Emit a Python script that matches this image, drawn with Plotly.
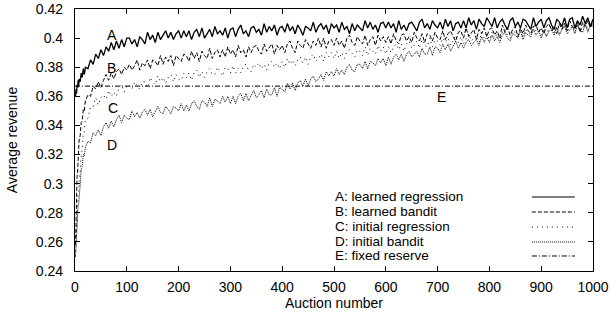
import plotly.graph_objects as go

# Auction numbers at which the curves were read
auction = [1, 2, 3, 4, 5, 6, 7, 8, 10, 12, 14, 16, 18, 20] + list(range(25, 1001, 5))

# A: learned regression
learned_regression = [
    0.360, 0.365, 0.362, 0.368, 0.366, 0.371, 0.367, 0.372, 0.370, 0.376, 0.373, 0.379, 0.375, 0.380,
    0.379, 0.385, 0.382, 0.389, 0.386, 0.392, 0.388, 0.394, 0.391, 0.397, 0.392, 0.398, 0.393, 0.399, 0.394, 0.400,
    0.400, 0.396, 0.399, 0.394, 0.401, 0.399, 0.396, 0.404, 0.399, 0.402, 0.397, 0.404, 0.399, 0.402, 0.405, 0.400, 0.404, 0.399, 0.403, 0.405,
    0.400, 0.405, 0.401, 0.405, 0.399, 0.404, 0.406, 0.401, 0.407, 0.400, 0.403, 0.406, 0.401, 0.408, 0.403, 0.405, 0.402, 0.407, 0.400, 0.406,
    0.407, 0.401, 0.406, 0.409, 0.403, 0.405, 0.401, 0.407, 0.408, 0.404, 0.406, 0.402, 0.410, 0.404, 0.408, 0.405, 0.409, 0.402, 0.407, 0.408,
    0.404, 0.410, 0.405, 0.408, 0.403, 0.409, 0.406, 0.402, 0.408, 0.407, 0.405, 0.411, 0.404, 0.408, 0.410, 0.406, 0.409, 0.403, 0.410, 0.407,
    0.409, 0.404, 0.411, 0.406, 0.408, 0.403, 0.410, 0.405, 0.409, 0.407, 0.405, 0.412, 0.407, 0.411, 0.406, 0.409, 0.404, 0.410, 0.411, 0.407,
    0.411, 0.407, 0.410, 0.404, 0.412, 0.406, 0.409, 0.405, 0.410, 0.411, 0.408, 0.405, 0.411, 0.413, 0.407, 0.410, 0.406, 0.412, 0.409, 0.407,
    0.411, 0.406, 0.413, 0.408, 0.412, 0.405, 0.410, 0.411, 0.407, 0.412, 0.407, 0.414, 0.409, 0.412, 0.406, 0.413, 0.410, 0.408, 0.414, 0.411,
    0.408, 0.414, 0.407, 0.411, 0.413, 0.409, 0.406, 0.412, 0.414, 0.408, 0.411, 0.407, 0.413, 0.412, 0.409, 0.406, 0.414, 0.408, 0.411, 0.413,
    0.407, 0.412, 0.414, 0.409, 0.406, 0.413, 0.411, 0.408, 0.414, 0.407, 0.413, 0.414, 0.407, 0.412, 0.409, 0.415, 0.410, 0.414, 0.408, 0.413,
]

# B: learned bandit
learned_bandit = [
    0.258, 0.280, 0.290, 0.305, 0.308, 0.320, 0.321, 0.330, 0.333, 0.342, 0.343, 0.351, 0.350, 0.357,
    0.361, 0.360, 0.367, 0.365, 0.370, 0.366, 0.371, 0.375, 0.371, 0.376, 0.372, 0.377, 0.379, 0.375, 0.380, 0.378,
    0.382, 0.378, 0.381, 0.385, 0.378, 0.383, 0.381, 0.385, 0.379, 0.385, 0.384, 0.381, 0.388, 0.382, 0.387, 0.384, 0.388, 0.381, 0.388, 0.386,
    0.384, 0.389, 0.388, 0.384, 0.391, 0.386, 0.390, 0.384, 0.391, 0.388, 0.386, 0.393, 0.386, 0.390, 0.392, 0.387, 0.392, 0.387, 0.394, 0.389,
    0.392, 0.387, 0.395, 0.390, 0.392, 0.387, 0.394, 0.390, 0.394, 0.395, 0.391, 0.389, 0.396, 0.391, 0.394, 0.396, 0.389, 0.395, 0.392, 0.395,
    0.390, 0.396, 0.398, 0.393, 0.390, 0.398, 0.395, 0.393, 0.399, 0.396, 0.393, 0.398, 0.395, 0.400, 0.394, 0.400, 0.393, 0.398, 0.399, 0.395,
    0.400, 0.395, 0.398, 0.393, 0.400, 0.402, 0.397, 0.395, 0.401, 0.398, 0.396, 0.402, 0.395, 0.399, 0.401, 0.395, 0.402, 0.398, 0.401, 0.397,
    0.401, 0.396, 0.403, 0.398, 0.396, 0.402, 0.403, 0.398, 0.401, 0.397, 0.404, 0.400, 0.398, 0.403, 0.397, 0.403, 0.402, 0.398, 0.404, 0.400,
    0.399, 0.405, 0.399, 0.403, 0.405, 0.401, 0.398, 0.404, 0.405, 0.400, 0.407, 0.401, 0.404, 0.406, 0.399, 0.406, 0.403, 0.407, 0.401, 0.406,
    0.407, 0.402, 0.405, 0.400, 0.409, 0.404, 0.407, 0.402, 0.406, 0.408, 0.401, 0.407, 0.403, 0.409, 0.405, 0.403, 0.408, 0.409, 0.404, 0.407,
    0.403, 0.408, 0.410, 0.405, 0.408, 0.403, 0.410, 0.406, 0.410, 0.405, 0.412, 0.408, 0.406, 0.411, 0.404, 0.411, 0.408, 0.412, 0.407, 0.411,
]

# C: initial regression
initial_regression = [
    0.250, 0.262, 0.268, 0.280, 0.284, 0.292, 0.294, 0.302, 0.308, 0.320, 0.324, 0.335, 0.336, 0.344,
    0.345, 0.353, 0.353, 0.359, 0.354, 0.359, 0.361, 0.358, 0.364, 0.360, 0.363, 0.360, 0.366, 0.368, 0.363, 0.367,
    0.368, 0.365, 0.370, 0.367, 0.365, 0.370, 0.370, 0.366, 0.373, 0.370, 0.368, 0.374, 0.370, 0.373, 0.369, 0.373, 0.375, 0.370, 0.375, 0.372,
    0.371, 0.376, 0.373, 0.376, 0.371, 0.376, 0.378, 0.373, 0.377, 0.373, 0.377, 0.379, 0.375, 0.375, 0.380, 0.377, 0.374, 0.380, 0.379, 0.376,
    0.381, 0.376, 0.379, 0.376, 0.381, 0.382, 0.378, 0.377, 0.382, 0.380, 0.383, 0.379, 0.382, 0.378, 0.383, 0.384, 0.380, 0.383, 0.379, 0.384,
    0.380, 0.386, 0.382, 0.385, 0.381, 0.385, 0.387, 0.383, 0.387, 0.382, 0.387, 0.389, 0.384, 0.386, 0.389, 0.384, 0.390, 0.387, 0.390, 0.386,
    0.391, 0.386, 0.390, 0.386, 0.391, 0.392, 0.389, 0.387, 0.392, 0.391, 0.388, 0.394, 0.388, 0.393, 0.391, 0.389, 0.395, 0.391, 0.394, 0.389,
    0.394, 0.390, 0.394, 0.396, 0.392, 0.396, 0.391, 0.396, 0.398, 0.393, 0.395, 0.398, 0.393, 0.399, 0.395, 0.394, 0.400, 0.394, 0.399, 0.398,
    0.395, 0.400, 0.397, 0.400, 0.395, 0.399, 0.402, 0.397, 0.401, 0.396, 0.400, 0.403, 0.398, 0.400, 0.402, 0.397, 0.404, 0.400, 0.403, 0.399,
    0.404, 0.400, 0.403, 0.399, 0.404, 0.406, 0.402, 0.400, 0.405, 0.404, 0.402, 0.407, 0.401, 0.406, 0.404, 0.402, 0.408, 0.404, 0.407, 0.402,
    0.407, 0.402, 0.407, 0.409, 0.404, 0.408, 0.403, 0.407, 0.410, 0.405, 0.407, 0.409, 0.404, 0.410, 0.406, 0.406, 0.411, 0.405, 0.410, 0.409,
]

# D: initial bandit
initial_bandit = [
    0.250, 0.259, 0.264, 0.274, 0.277, 0.285, 0.286, 0.293, 0.299, 0.310, 0.312, 0.320, 0.319, 0.325,
    0.329, 0.328, 0.335, 0.333, 0.337, 0.333, 0.339, 0.342, 0.338, 0.343, 0.339, 0.344, 0.347, 0.342, 0.347, 0.345,
    0.344, 0.350, 0.346, 0.349, 0.345, 0.349, 0.351, 0.347, 0.351, 0.346, 0.350, 0.353, 0.349, 0.348, 0.353, 0.351, 0.348, 0.353, 0.352, 0.350,
    0.355, 0.350, 0.354, 0.350, 0.355, 0.357, 0.353, 0.351, 0.357, 0.356, 0.353, 0.359, 0.353, 0.358, 0.357, 0.355, 0.360, 0.356, 0.360, 0.355,
    0.360, 0.355, 0.360, 0.362, 0.357, 0.362, 0.357, 0.361, 0.364, 0.359, 0.361, 0.364, 0.359, 0.365, 0.361, 0.361, 0.366, 0.360, 0.366, 0.365,
    0.363, 0.369, 0.365, 0.369, 0.364, 0.369, 0.371, 0.367, 0.372, 0.367, 0.372, 0.374, 0.370, 0.372, 0.375, 0.371, 0.377, 0.374, 0.377, 0.374,
    0.379, 0.375, 0.378, 0.375, 0.380, 0.382, 0.378, 0.377, 0.382, 0.382, 0.379, 0.384, 0.379, 0.384, 0.383, 0.381, 0.386, 0.383, 0.386, 0.381,
    0.387, 0.382, 0.387, 0.389, 0.385, 0.389, 0.384, 0.389, 0.391, 0.387, 0.389, 0.391, 0.387, 0.393, 0.389, 0.389, 0.394, 0.388, 0.394, 0.393,
    0.390, 0.396, 0.392, 0.396, 0.391, 0.395, 0.398, 0.393, 0.397, 0.393, 0.397, 0.399, 0.395, 0.397, 0.399, 0.395, 0.401, 0.397, 0.401, 0.397,
    0.402, 0.398, 0.401, 0.397, 0.402, 0.404, 0.400, 0.398, 0.403, 0.402, 0.400, 0.405, 0.399, 0.404, 0.402, 0.401, 0.406, 0.402, 0.405, 0.400,
    0.405, 0.401, 0.405, 0.407, 0.402, 0.407, 0.402, 0.406, 0.408, 0.403, 0.406, 0.408, 0.403, 0.409, 0.405, 0.404, 0.410, 0.404, 0.409, 0.408,
]

# E: fixed reserve
fixed_auction = [0, 1000]
fixed_reserve = [0.367, 0.367]

series_names = ["A: learned regression", "B: learned bandit", "C: initial regression",
                "D: initial bandit", "E: fixed reserve"]
curve_letters = ["A", "B", "C", "D", "E"]
letter_x = [71, 71, 73, 71, 708]
letter_y = [0.402, 0.3795, 0.352, 0.3266, 0.3595]

x_ticks = [0, 100, 200, 300, 400, 500, 600, 700, 800, 900, 1000]
y_ticks = [0.24, 0.26, 0.28, 0.30, 0.32, 0.34, 0.36, 0.38, 0.40, 0.42]
y_tick_text = ["0.24", "0.26", "0.28", "0.3", "0.32", "0.34", "0.36", "0.38", "0.4", "0.42"]

for s in (learned_regression, learned_bandit, initial_regression, initial_bandit):
    assert len(s) == len(auction), len(s)

FONT = "Liberation Sans, Arial, sans-serif"
FS = 14
dashes = ["solid", "4px,2px", "1px,4px", "1px,1px", "5px,2px,1px,2px"]
widths = [1.3, 1, 1, 1, 1]

fig = go.Figure()
data_sets = [(auction, learned_regression), (auction, learned_bandit),
             (auction, initial_regression), (auction, initial_bandit),
             (fixed_auction, fixed_reserve)]
for (xs, ys), name, dash, w in zip(data_sets, series_names, dashes, widths):
    fig.add_trace(go.Scatter(x=xs, y=ys, mode="lines", name=name,
                             line=dict(color="black", width=w, dash=dash),
                             showlegend=False))

# curve letters
for letter, lx, ly in zip(curve_letters, letter_x, letter_y):
    fig.add_annotation(x=lx, y=ly, xref="x", yref="y", text=letter, showarrow=False,
                       font=dict(family=FONT, size=FS, color="black"))

# gnuplot-style legend: text on the left, line sample on the right
legend_y = [0.2825, 0.2252, 0.168, 0.1107, 0.0573]
for name, dash, ly in zip(series_names, dashes, legend_y):
    fig.add_annotation(x=0.498, y=ly, xref="paper", yref="paper", text=name,
                       showarrow=False, xanchor="left", yanchor="middle",
                       font=dict(family=FONT, size=13.5, color="black"))
    fig.add_shape(type="line", xref="paper", yref="paper", x0=0.882, x1=0.965,
                  y0=ly, y1=ly, line=dict(color="black", width=1, dash=dash))

axis_common = dict(showline=True, linecolor="black", linewidth=1.2, mirror="ticks",
                   ticks="inside", ticklen=5, tickcolor="black", tickwidth=1,
                   showgrid=False, zeroline=False, automargin=False,
                   tickfont=dict(family=FONT, size=FS, color="black"))

fig.update_layout(
    width=610, height=322,
    margin=dict(l=75, r=17, t=9, b=51),
    paper_bgcolor="white", plot_bgcolor="white",
    font=dict(family=FONT, size=FS, color="black"),
    xaxis=dict(range=[0, 1000], tickvals=x_ticks, ticklabelstandoff=3,
               title=dict(text="Auction number", standoff=4,
                          font=dict(family=FONT, size=FS, color="black")),
               **axis_common),
    yaxis=dict(range=[0.24, 0.42], tickvals=y_ticks, ticktext=y_tick_text,
               ticklabelstandoff=8,
               title=dict(text="Average revenue", standoff=14,
                          font=dict(family=FONT, size=FS, color="black")),
               **axis_common),
)

fig.write_html("out.html", config={"displayModeBar": False},
               post_script="document.body.style.margin='0';document.body.style.padding='0';")
